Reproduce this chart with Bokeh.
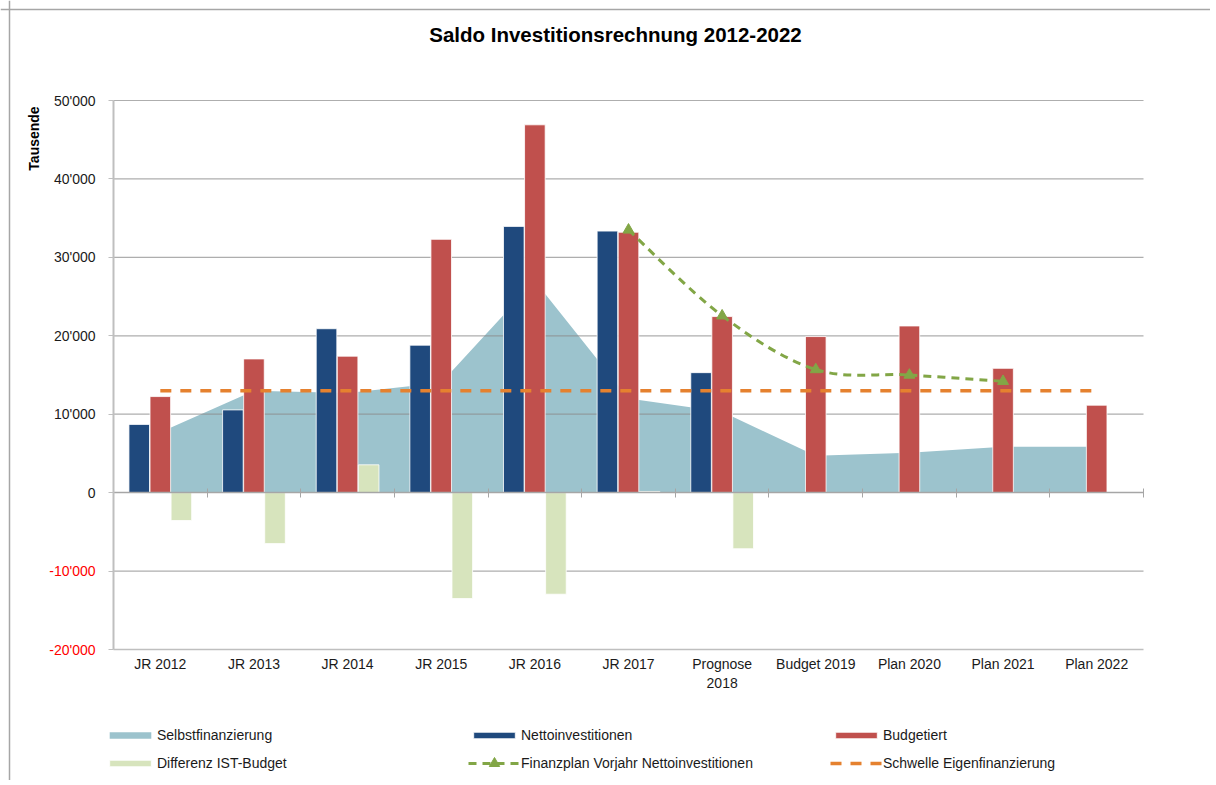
import math
from bokeh.plotting import figure
from bokeh.models import (ColumnDataSource, FixedTicker, LinearAxis, Legend, LegendItem,
                          Range1d, Label, Span, Grid)
from bokeh.transform import dodge
from bokeh.embed import file_html
from bokeh.resources import INLINE

# ---------------- data ----------------
categories = ["JR 2012", "JR 2013", "JR 2014", "JR 2015", "JR 2016", "JR 2017",
              "Prognose\n2018", "Budget 2019", "Plan 2020", "Plan 2021", "Plan 2022"]
selbstfinanzierung = [7700, 13000, 12700, 14000, 27000, 12000, 10300, 4700, 5100, 5850, 5850]
netto_categories = ["JR 2012", "JR 2013", "JR 2014", "JR 2015", "JR 2016", "JR 2017", "Prognose\n2018"]
nettoinvestitionen = [8700, 10550, 20900, 18800, 33950, 33350, 15300]
budgetiert = [12250, 17050, 17400, 32300, 46900, 33200, 22450, 19900, 21250, 15850, 11150]
differenz_categories = ["JR 2012", "JR 2013", "JR 2014", "JR 2015", "JR 2016", "JR 2017", "Prognose\n2018"]
differenz = [-3550, -6500, 3550, -13500, -12950, 150, -7150]
finanzplan_categories = ["JR 2017", "Prognose\n2018", "Budget 2019", "Plan 2020", "Plan 2021"]
finanzplan = [33500, 22550, 15700, 15000, 14200]
schwelle = [13000, 13000, 13000, 13000, 13000, 13000, 13000, 13000, 13000, 13000, 13000]
y_ticks = [-20000, -10000, 0, 10000, 20000, 30000, 40000, 50000]
y_tick_labels = ["-20'000", "-10'000", "0", "10'000", "20'000", "30'000", "40'000", "50'000"]
title_text = "Saldo Investitionsrechnung 2012-2022"
y_title = "Tausende"

# ---------------- layout (pixels) ----------------
W, H = 1210, 780                  # whole drawing = plot frame
PLOT_L, PLOT_R = 113, 1143        # chart area left/right
PLOT_T, PLOT_B = 100, 649         # chart area top/bottom
ncat = len(categories)
px_per_cat = (PLOT_R - PLOT_L) / ncat
y_lo, y_hi = y_ticks[0], y_ticks[-1]
px_per_unit = (PLOT_B - PLOT_T) / (y_hi - y_lo)
x_start = -0.5 - PLOT_L / px_per_cat
x_end = ncat - 0.5 + (W - PLOT_R) / px_per_cat
y_end = y_hi + PLOT_T / px_per_unit
y_start = y_lo - (H - PLOT_B) / px_per_unit

# ---------------- styling ----------------
FONT = "Liberation Sans"
C_AREA = "#9CC3CD"
C_NETTO = "#1F497D"
C_BUDGET = "#C0504D"
C_DIFF = "#D7E4BD"
C_PLAN = "#82A646"
C_SCHW = "#E5812F"
GRID = "#8C8C8C"
AXIS = "#BFBFBF"
TXT = "#1a1a1a"

idx = {c: i for i, c in enumerate(categories)}

p = figure(frame_width=W, frame_height=H,
           x_range=Range1d(x_start, x_end), y_range=Range1d(y_start, y_end),
           x_axis_location=None, y_axis_location=None,
           output_backend="svg", toolbar_location=None,
           min_border_left=0, min_border_right=0, min_border_top=0, min_border_bottom=0)
p.outline_line_color = None
p.background_fill_color = "white"
p.border_fill_color = "white"
for r in list(p.center) + list(p.renderers):
    if isinstance(r, Grid):
        r.visible = False

x_lo_cat, x_hi_cat = -0.5, ncat - 0.5

# chart border (top and left edge of the chart object)
p.add_layout(Span(location=y_hi + (PLOT_T - 9) / px_per_unit, dimension="width",
                  line_color="#A6A6A6", line_width=1.5))
p.add_layout(Span(location=x_lo_cat - (PLOT_L - 9) / px_per_cat, dimension="height",
                  line_color="#A6A6A6", line_width=1.5))

# ---------------- glyphs ----------------
area_src = ColumnDataSource(dict(x=[idx[c] for c in categories], y=selbstfinanzierung))
r_area = p.varea(x="x", y1=0, y2="y", source=area_src, fill_color=C_AREA)

# horizontal gridlines (drawn over the area, under the bars)
grid_y = [t for t in y_ticks if t not in (y_lo, 0)]
p.segment(x0=x_lo_cat, x1=x_hi_cat, y0=grid_y, y1=grid_y, line_color=GRID,
          line_alpha=0.7, line_width=1.2)

netto_src = ColumnDataSource(dict(x=[idx[c] for c in netto_categories], top=nettoinvestitionen))
bud_src = ColumnDataSource(dict(x=[idx[c] for c in categories], top=budgetiert))
diff_src = ColumnDataSource(dict(x=[idx[c] for c in differenz_categories], top=differenz))

BW = 0.22
r_netto = p.vbar(x=dodge("x", -0.225), top="top", bottom=0, width=BW, source=netto_src,
                 fill_color=C_NETTO, line_color="white", line_width=0.8)
r_bud = p.vbar(x=dodge("x", 0.0), top="top", bottom=0, width=BW, source=bud_src,
               fill_color=C_BUDGET, line_color="white", line_width=0.8)
r_diff = p.vbar(x=dodge("x", 0.225), top="top", bottom=0, width=BW, source=diff_src,
                fill_color=C_DIFF, line_color="white", line_width=0.8)

sch_src = ColumnDataSource(dict(x=[idx[c] for c in categories], y=schwelle))
r_sch = p.line(x="x", y="y", source=sch_src, line_color=C_SCHW, line_width=3.5,
               line_dash="11 9")

# smoothed Finanzplan line (Bezier segments derived from the data points)
fx = [idx[c] for c in finanzplan_categories]
fy = finanzplan
n = len(fx)
bx0, by0, bx1, by1, cx0, cy0, cx1, cy1 = [], [], [], [], [], [], [], []
for i in range(n - 1):
    pxm, pym = (fx[i - 1], fy[i - 1]) if i > 0 else (fx[i], fy[i])
    pxn, pyn = (fx[i + 2], fy[i + 2]) if i + 2 < n else (fx[i + 1], fy[i + 1])
    bx0.append(fx[i]); by0.append(fy[i]); bx1.append(fx[i + 1]); by1.append(fy[i + 1])
    cx0.append(fx[i] + (fx[i + 1] - pxm) / 6); cy0.append(fy[i] + (fy[i + 1] - pym) / 6)
    cx1.append(fx[i + 1] - (pxn - fx[i]) / 6); cy1.append(fy[i + 1] - (pyn - fy[i]) / 6)
bez_src = ColumnDataSource(dict(x0=bx0, y0=by0, x1=bx1, y1=by1, cx0=cx0, cy0=cy0, cx1=cx1, cy1=cy1))
r_plan = p.bezier(x0="x0", y0="y0", x1="x1", y1="y1", cx0="cx0", cy0="cy0", cx1="cx1", cy1="cy1",
                  source=bez_src, line_color=C_PLAN, line_width=3, line_dash="8 6")
plan_src = ColumnDataSource(dict(x=fx, y=fy))
r_plan_m = p.scatter(x="x", y="y", source=plan_src, marker="triangle", size=11,
                     fill_color=C_PLAN, line_color=C_PLAN)

# ---------------- axes ----------------
xa = LinearAxis(fixed_location=y_lo, bounds=(x_lo_cat, x_hi_cat),
                ticker=FixedTicker(ticks=list(range(ncat))),
                major_label_overrides={i: c for i, c in enumerate(categories)},
                major_tick_line_color=None, major_tick_out=0, major_tick_in=0,
                minor_tick_line_color=None, axis_line_color=AXIS, axis_line_width=1.5,
                major_label_standoff=6, major_label_text_font=FONT,
                major_label_text_font_size="14px", major_label_text_color=TXT)
p.add_layout(xa, "below")

bounds = [i - 0.5 for i in range(ncat + 1)]
zero_axis = LinearAxis(fixed_location=0, bounds=(x_lo_cat, x_hi_cat),
                       ticker=FixedTicker(ticks=bounds),
                       major_label_overrides={b: "" for b in bounds},
                       axis_line_color="#A6A6A6", axis_line_width=1.5,
                       major_tick_line_color="#A6A6A6", major_tick_in=4, major_tick_out=5,
                       minor_tick_line_color=None, major_label_text_font_size="1px")
p.add_layout(zero_axis, "below")

ya = LinearAxis(fixed_location=x_lo_cat, bounds=(y_lo, y_hi),
                ticker=FixedTicker(ticks=y_ticks),
                major_label_overrides={t: (lab if t >= 0 else "") for t, lab in zip(y_ticks, y_tick_labels)},
                major_tick_out=5, major_tick_in=0, major_tick_line_color=AXIS,
                minor_tick_line_color=None, axis_line_color=AXIS, axis_line_width=2,
                major_label_standoff=13, major_label_text_font=FONT,
                major_label_text_font_size="14px", major_label_text_color=TXT)
p.add_layout(ya, "left")

neg_axis = LinearAxis(fixed_location=x_lo_cat, bounds=(y_lo, 0),
                      ticker=FixedTicker(ticks=[t for t in y_ticks if t < 0]),
                      major_label_overrides={t: lab for t, lab in zip(y_ticks, y_tick_labels) if t < 0},
                      axis_line_color=None, major_tick_line_color=None,
                      major_tick_out=5, major_tick_in=0, minor_tick_line_color=None,
                      major_label_standoff=13, major_label_text_font=FONT,
                      major_label_text_font_size="14px", major_label_text_color="#FF0000")
p.add_layout(neg_axis, "left")

# ---------------- texts ----------------
p.add_layout(Label(x=615, y=H - 34, x_units="screen", y_units="screen", text=title_text,
                   text_align="center", text_baseline="middle", text_font=FONT,
                   text_font_size="20.5px", text_font_style="bold", text_color="#000000"))
p.add_layout(Label(x=33, y=H - 138, x_units="screen", y_units="screen", angle=math.pi / 2,
                   text=y_title, text_align="center", text_baseline="middle",
                   text_font=FONT, text_font_size="14px", text_font_style="bold",
                   text_color="#000000"))

# ---------------- legend (one block per entry, laid out as 3 columns x 2 rows) ----------------
def add_legend_entry(label, renderers, left, center_y, glyph_h=8, item_h=20):
    top = int(center_y - item_h // 2)
    lg = Legend(items=[LegendItem(label=label, renderers=renderers)],
                location=(int(left), int(H - top - item_h)),
                orientation="vertical", glyph_width=52, glyph_height=int(glyph_h),
                label_standoff=1, label_height=int(item_h), spacing=0, padding=0, margin=0,
                border_line_color=None, background_fill_alpha=0,
                label_text_font=FONT, label_text_font_size="14px", label_text_color=TXT)
    p.add_layout(lg)

COL_X = [104, 468, 830]
ROW_Y = [735, 763]
add_legend_entry("Selbstfinanzierung", [r_area], COL_X[0], ROW_Y[0])
add_legend_entry("Nettoinvestitionen", [r_netto], COL_X[1], ROW_Y[0])
add_legend_entry("Budgetiert", [r_bud], COL_X[2], ROW_Y[0])
add_legend_entry("Differenz IST-Budget", [r_diff], COL_X[0], ROW_Y[1])
add_legend_entry("Finanzplan Vorjahr Nettoinvestitionen", [r_plan, r_plan_m], COL_X[1], ROW_Y[1],
                 glyph_h=26, item_h=26)
add_legend_entry("Schwelle Eigenfinanzierung", [r_sch], COL_X[2], ROW_Y[1])

open("out.html", "w").write(file_html(p, INLINE))
